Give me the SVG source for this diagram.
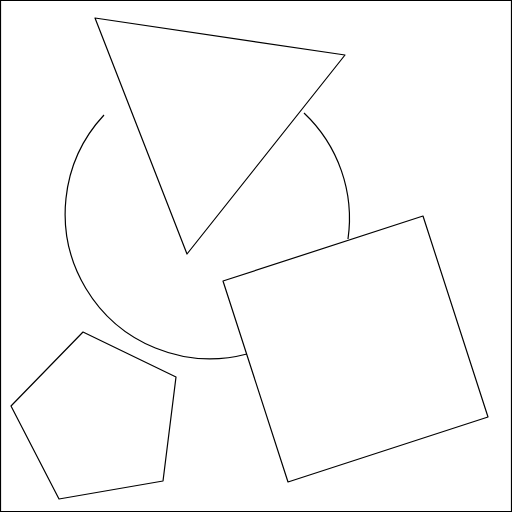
<svg xmlns="http://www.w3.org/2000/svg" width="512" height="512" viewBox="0 0 512 512">
<style>
.s{fill:none;stroke:#000;stroke-width:1.2;stroke-linejoin:round}
</style>
<rect x="0" y="0" width="512" height="512" fill="#fff"/>
<rect x="0.5" y="0.5" width="511" height="511" class="s"/>
<g id="circle">
<path class="s" d="M104,115 A145,145 0 0 0 247,354"/>
<path class="s" d="M304,113 A145,145 0 0 1 348,239"/>
</g>
<g id="triangle">
<polygon class="s" points="95,18 345,55 187,254"/>
</g>
<g id="square">
<polygon class="s" points="223,281 423,216 488,417 288,482"/>
</g>
<g id="pentagon">
<polygon class="s" points="83,332 176,377 163,481 59,499 11,406"/>
</g>
</svg>
